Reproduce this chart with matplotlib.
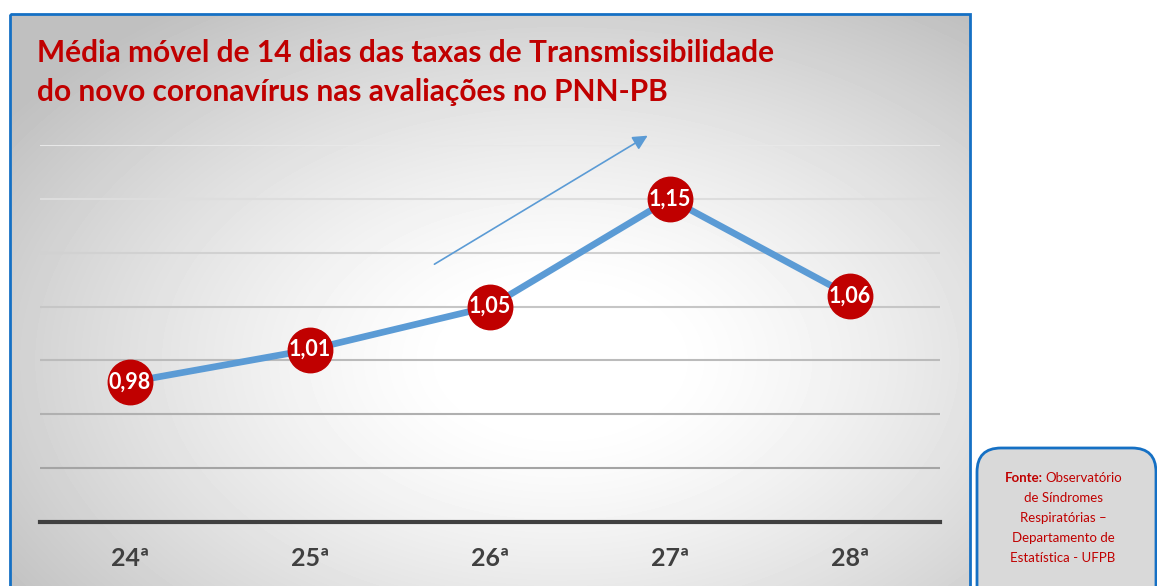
import numpy as np
import matplotlib.pyplot as plt
from matplotlib.patches import Rectangle, FancyBboxPatch

plt.rcParams['font.family'] = ['Lato', 'DejaVu Sans']

# dados
semanas = ['24ª', '25ª', '26ª', '27ª', '28ª']
taxas = [0.98, 1.01, 1.05, 1.15, 1.06]
rotulos = ['0,98', '1,01', '1,05', '1,15', '1,06']
y_ticks = [0.85, 0.90, 0.95, 1.00, 1.05, 1.10, 1.15, 1.20]
titulo = ['Média móvel de 14 dias das taxas de Transmissibilidade',
          'do novo coronavírus nas avaliações no PNN-PB']
fonte = ['de Síndromes', 'Respiratórias –', 'Departamento de', 'Estatística - UFPB']

VERMELHO = '#c00000'
AZUL = '#5b9bd5'
BORDA = '#1570c4'

W, H = 1157, 586
fig = plt.figure(figsize=(W / 100, H / 100), dpi=100)

# fundo em pixels
bg = fig.add_axes([0, 0, 1, 1])
bg.axis('off')
x0, x1, y0 = 10, 970, 14
xx, yy = np.meshgrid(np.arange(x0, x1), np.arange(y0, H))
r = np.hypot((xx - 560) / 520, (yy - 360) / 330)
v = 1 - 0.25 * np.clip((r - 0.2) / 1.1, 0, 1) ** 1.3
bg.imshow(v, cmap='gray', vmin=0, vmax=1, extent=(x0, x1, H, y0),
          aspect='auto', interpolation='bilinear')
bg.add_patch(Rectangle((x0, y0), x1 - x0, H, fill=False, ec=BORDA, lw=2))
bg.add_patch(FancyBboxPatch((977, 448), 179, 200,
                            boxstyle='round,pad=0,rounding_size=24',
                            fc='#d9d9d9', ec=BORDA, lw=2))
bg.set_xlim(0, W)
bg.set_ylim(H, 0)

bg.text(37, 62, titulo[0], color=VERMELHO, fontsize=21.5, fontweight='bold')
bg.text(37, 101, titulo[1], color=VERMELHO, fontsize=21.5, fontweight='bold')

bg.text(1043, 478, 'Fonte:', color=VERMELHO, fontsize=9.5, fontweight='bold',
        ha='right', va='center')
bg.text(1045, 478, 'Observatório', color=VERMELHO, fontsize=9.5,
        ha='left', va='center')
for i, linha in enumerate(fonte):
    bg.text(1063, 498 + 20 * i, linha, color=VERMELHO, fontsize=9.5,
            ha='center', va='center')

# grafico
ax = fig.add_axes([40 / W, (H - 522) / H, 900 / W, (522 - 145) / H])
ax.set_facecolor('none')
x = np.arange(len(semanas))
ax.plot(x, taxas, color=AZUL, lw=4.8, zorder=3, solid_capstyle='round')
ax.plot(x, taxas, 'o', ms=32, color=VERMELHO, zorder=4)
for xi, yi, t in zip(x, taxas, rotulos):
    ax.text(xi, yi, t, color='white', fontsize=15.5, fontweight='bold',
            ha='center', va='center', zorder=5)

ax.annotate('', xy=(2.889, 1.210), xytext=(1.678, 1.088),
            arrowprops=dict(arrowstyle='-|>', color=AZUL, lw=1.2,
                            mutation_scale=22),
            annotation_clip=False)

ax.set_xlim(-0.5, 4.5)
ax.set_ylim(0.85, 1.20)
ax.set_yticks(y_ticks)
ax.yaxis.grid(True, lw=1.5)
ax.set_axisbelow(True)
cores = np.linspace(0.60, 0.91, len(y_ticks))
for g, c in zip(ax.yaxis.get_gridlines(), cores):
    g.set_color(str(c))
ax.set_xticks(x)
ax.set_xticklabels(semanas, fontsize=18, fontweight='bold', color='#404040')
ax.tick_params(left=False, labelleft=False, length=0, pad=18)
for s in ['top', 'left', 'right']:
    ax.spines[s].set_visible(False)
ax.spines['bottom'].set_color('#404040')
ax.spines['bottom'].set_linewidth(3)

fig.savefig('out.png', dpi=100)
